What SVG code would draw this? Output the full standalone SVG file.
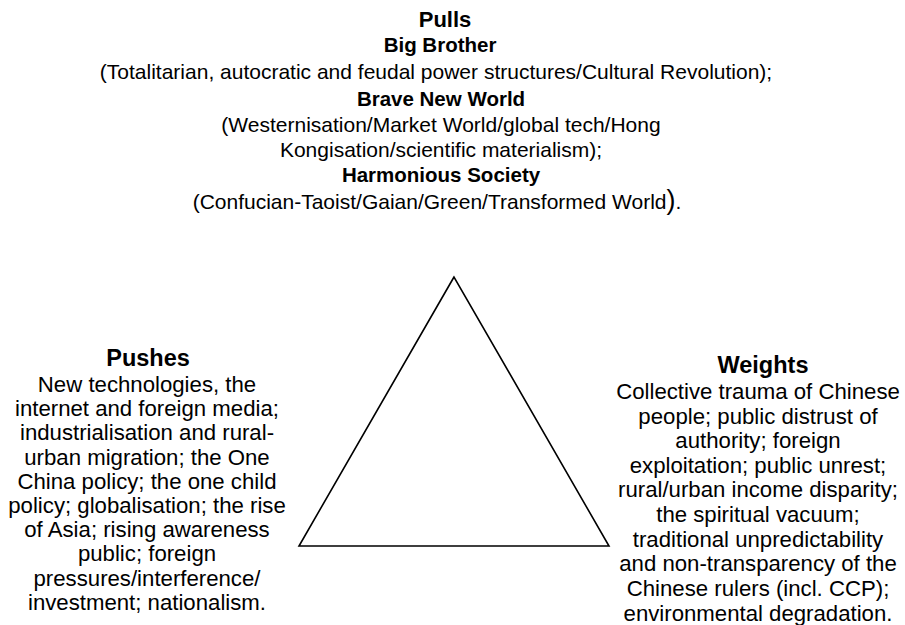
<svg xmlns="http://www.w3.org/2000/svg" width="905" height="625" viewBox="0 0 905 625">
  <style>
    text { font-family: "Liberation Sans", Arial, sans-serif; fill: #000; text-anchor: middle; }
    .top { font-size: 21px; }
    .side { font-size: 22.2px; }
    .b { font-weight: bold; }
    .h { font-size: 23.5px; font-weight: bold; }
  </style>
  <rect width="905" height="625" fill="#fff"/>

  <!-- Pulls block -->
  <g id="pulls">
    <text class="b" x="445" y="27" font-size="22">Pulls</text>
    <text class="b" x="440" y="52" font-size="20.5">Big Brother</text>
    <text class="top" x="436" y="79">(Totalitarian, autocratic and feudal power structures/Cultural Revolution);</text>
    <text class="b" x="441" y="106" font-size="20.5">Brave New World</text>
    <text class="top" x="441" y="132">(Westernisation/Market World/global tech/Hong</text>
    <text class="top" x="441" y="157">Kongisation/scientific materialism);</text>
    <text class="b" x="441" y="182" font-size="20.5">Harmonious Society</text>
    <text class="top" x="437" y="209">(Confucian-Taoist/Gaian/Green/Transformed World<tspan font-size="27">)</tspan>.</text>
  </g>

  <!-- Triangle -->
  <g id="triangle">
    <polygon points="454,277 299,546 609,546" fill="none" stroke="#000" stroke-width="1.6"/>
  </g>

  <!-- Pushes block -->
  <g id="pushes">
    <text class="h" x="148" y="366">Pushes</text>
    <text class="side" x="147" y="392">New technologies, the</text>
    <text class="side" x="147" y="416">internet and foreign media;</text>
    <text class="side" x="147" y="440">industrialisation and rural-</text>
    <text class="side" x="147" y="465">urban migration; the One</text>
    <text class="side" x="147" y="489">China policy; the one child</text>
    <text class="side" x="147" y="513">policy; globalisation; the rise</text>
    <text class="side" x="147" y="537">of Asia; rising awareness</text>
    <text class="side" x="147" y="561">public; foreign</text>
    <text class="side" x="147" y="586">pressures/interference/</text>
    <text class="side" x="147" y="610">investment; nationalism.</text>
  </g>

  <!-- Weights block -->
  <g id="weights">
    <text class="h" x="763" y="373">Weights</text>
    <text class="side" x="758" y="399">Collective trauma of Chinese</text>
    <text class="side" x="758" y="424">people; public distrust of</text>
    <text class="side" x="758" y="448">authority; foreign</text>
    <text class="side" x="758" y="473">exploitation; public unrest;</text>
    <text class="side" x="758" y="497">rural/urban income disparity;</text>
    <text class="side" x="758" y="522">the spiritual vacuum;</text>
    <text class="side" x="758" y="547">traditional unpredictability</text>
    <text class="side" x="758" y="571">and non-transparency of the</text>
    <text class="side" x="758" y="596">Chinese rulers (incl. CCP);</text>
    <text class="side" x="758" y="621">environmental degradation.</text>
  </g>
</svg>
